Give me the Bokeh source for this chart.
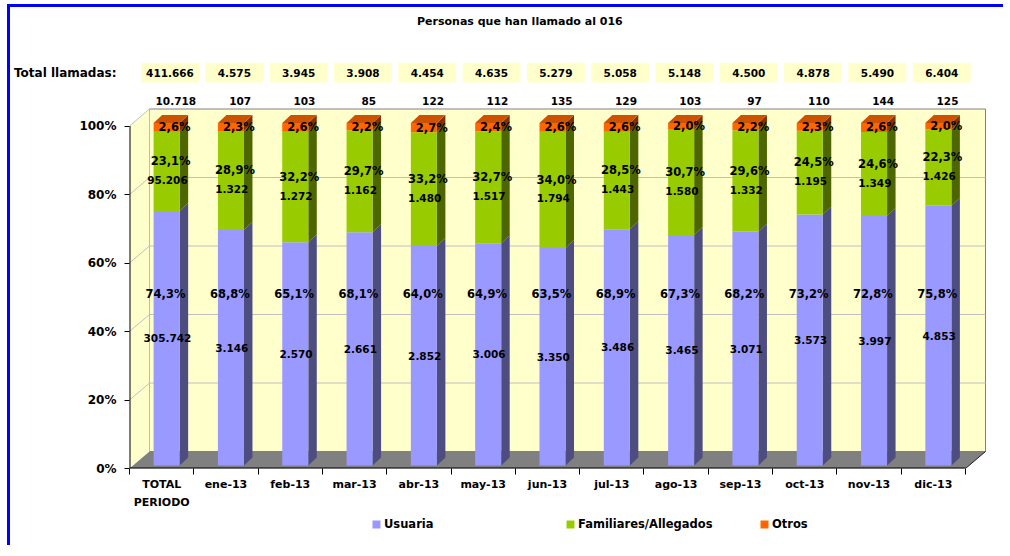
from bokeh.plotting import figure
from bokeh.layouts import column
from bokeh.models import FixedTicker, Legend, LegendItem, Label, Range1d
from bokeh.core.properties import value
from bokeh.embed import file_html
from bokeh.resources import INLINE

# ---------------- data ----------------
categories = ["TOTAL\nPERIODO", "ene-13", "feb-13", "mar-13", "abr-13", "may-13", "jun-13",
              "jul-13", "ago-13", "sep-13", "oct-13", "nov-13", "dic-13"]
total_llamadas = [411666, 4575, 3945, 3908, 4454, 4635, 5279, 5058, 5148, 4500, 4878, 5490, 6404]
usuaria = [305742, 3146, 2570, 2661, 2852, 3006, 3350, 3486, 3465, 3071, 3573, 3997, 4853]
familiares = [95206, 1322, 1272, 1162, 1480, 1517, 1794, 1443, 1580, 1332, 1195, 1349, 1426]
otros = [10718, 107, 103, 85, 122, 112, 135, 129, 103, 97, 110, 144, 125]
pct_usuaria = [74.3, 68.8, 65.1, 68.1, 64.0, 64.9, 63.5, 68.9, 67.3, 68.2, 73.2, 72.8, 75.8]
pct_familiares = [23.1, 28.9, 32.2, 29.7, 33.2, 32.7, 34.0, 28.5, 30.7, 29.6, 24.5, 24.6, 22.3]
pct_otros = [2.6, 2.3, 2.6, 2.2, 2.7, 2.4, 2.6, 2.6, 2.0, 2.2, 2.3, 2.6, 2.0]
series_names = ["Usuaria", "Familiares/Allegados", "Otros"]
y_ticks = [0, 20, 40, 60, 80, 100]
totals_title = "Total llamadas:"
chart_title = "Personas que han llamado al 016"

# ---------------- style ----------------
FONT = "DejaVu Sans"
FRONT = ["#9999FF", "#99CC00", "#FF6600"]
SIDE = ["#4D4D80", "#4D6600", "#803300"]
TOP = "#CC5200"
WALL = "#FFFFCC"
FLOOR = "#808080"
GRID = "#C0C0C0"
BLUE = "3px solid #0000FF"

W, H = 996, 511
ML, MR, MT, MB = 118, 11, 7, 50
n = len(categories)
frame_w = W - ML - MR
frame_h = H - MT - MB
unit_px = 837 / 13.0           # pixels per category
pct_px = 3.425                 # pixels per percent
x_end = frame_w / unit_px
y_end = frame_h / pct_px

WDX, WDY = 20 / unit_px, 17 / pct_px        # depth of walls
SDX, SDY = 8.5 / unit_px, 8 / pct_px        # depth of bars
BL, BR = 0.375, 0.78                          # bar front face within category
BASE = 0.9
ROW_TOTAL, ROW_OTROS, ROW_TITLE = 115.6, 107.2, 130.5

p = figure(width=W, height=H, output_backend="svg", toolbar_location=None,
           x_range=Range1d(0, x_end), y_range=Range1d(0, y_end),
           min_border_left=ML, min_border_right=MR, min_border_top=MT, min_border_bottom=MB)
p.styles = {"margin-left": "7px", "margin-top": "4px", "border-left": BLUE, "border-top": BLUE}
p.background_fill_color = "white"
p.border_fill_color = "white"
p.outline_line_color = None
p.xgrid.visible = False
p.ygrid.visible = False

# walls and floor
p.patch([WDX, n + WDX, n + WDX, WDX], [WDY, WDY, 100 + WDY, 100 + WDY],
        fill_color=WALL, line_color="#808080", line_width=1)
p.patch([0, WDX, WDX, 0], [0, WDY, 100 + WDY, 100], fill_color=WALL, line_color=None)
gx, gy = [], []
for v in y_ticks[1:]:
    gx.append([0, WDX, n + WDX] if v < 100 else [0, WDX])
    gy.append([v, v + WDY, v + WDY] if v < 100 else [v, v + WDY])
p.multi_line(gx, gy, line_color=GRID, line_width=1)
p.patch([0, n, n + WDX, WDX], [0, 0, WDY, WDY], fill_color=FLOOR, line_color=None)
p.line([n, n + WDX], [0, WDY], line_color="#202020", line_width=1)

# bars
series = [usuaria, familiares, otros]
shares = [[s[i] / total_llamadas[i] * 100 for i in range(n)] for s in series]
cum = [0.0] * n
bottoms, tops = [], []
lefts = [i + BL for i in range(n)]
rights = [i + BR for i in range(n)]
for k in range(3):
    b = [BASE + cum[i] for i in range(n)]
    t = [BASE + cum[i] + shares[k][i] for i in range(n)]
    bottoms.append(b)
    tops.append(t)
    cum = [cum[i] + shares[k][i] for i in range(n)]
    xs = [[rights[i], rights[i] + SDX, rights[i] + SDX, rights[i]] for i in range(n)]
    ys = [[b[i], b[i] + SDY, t[i] + SDY, t[i]] for i in range(n)]
    p.patches(xs, ys, fill_color=SIDE[k], line_color=None)
    p.quad(left=lefts, right=rights, bottom=b, top=t, fill_color=FRONT[k], line_color=None)
txs = [[i + BL, i + BR, i + BR + SDX, i + BL + SDX] for i in range(n)]
tys = [[tops[2][i], tops[2][i], tops[2][i] + SDY, tops[2][i] + SDY] for i in range(n)]
p.patches(txs, tys, fill_color=TOP, line_color=None)

# axis lines
p.line([0, 0], [0, 100], line_color="black", line_width=2)
p.line([0, n], [0, 0], line_color="black", line_width=2)


def miles(v):
    return f"{v:,}".replace(",", ".")


def pct(v):
    return f"{v:.1f}%".replace(".", ",")


def txt(xs, ys, texts, size="10.5px"):
    p.text(x=xs, y=ys, text=texts, text_font=value(FONT), text_font_style="bold",
           text_font_size=size, text_align="center", text_baseline="middle", text_color="black")


cx = [i + 0.5 for i in range(n)]
# in-bar labels
txt([c + 0.09 for c in cx], [(bottoms[0][i] + tops[0][i]) / 2 for i in range(n)], [miles(v) for v in usuaria])
txt([c + 0.06 for c in cx], [BASE + 50 for i in range(n)], [pct(v) for v in pct_usuaria], "11.5px")
txt([c + 0.09 for c in cx], [(bottoms[1][i] + tops[1][i]) / 2 - 2.5 for i in range(n)], [miles(v) for v in familiares])
txt([c + 0.14 for c in cx], [(bottoms[1][i] + tops[1][i]) / 2 + 3 for i in range(n)], [pct(v) for v in pct_familiares], "11.5px")
txt([c + 0.2 for c in cx], [(bottoms[2][i] + tops[2][i]) / 2 for i in range(n)], [pct(v) for v in pct_otros], "11.5px")

# counts of Otros above bars
txt([c + 0.22 for c in cx], [ROW_OTROS] * n, [miles(v) for v in otros])
# totals row
p.rect(x=[c + 0.13 for c in cx], y=[ROW_TOTAL] * n, width=0.9, height=5.8, fill_color=WALL, line_color=None)
txt([c + 0.13 for c in cx], [ROW_TOTAL] * n, [miles(v) for v in total_llamadas])
p.add_layout(Label(x=6.07, y=ROW_TITLE, text=chart_title, text_font=FONT,
                   text_font_style="bold", text_font_size="11px", text_align="center",
                   text_baseline="middle", text_color="black"))

# y axis (the "Total llamadas:" caption sits on the axis as an extra tick label)
p.yaxis.ticker = FixedTicker(ticks=y_ticks + [ROW_TOTAL], minor_ticks=y_ticks)
labels = {v: f"{v}%" for v in y_ticks}
labels[ROW_TOTAL] = totals_title
p.yaxis.major_label_overrides = labels
p.yaxis.axis_line_color = None
p.yaxis.major_tick_out = 0
p.yaxis.major_tick_in = 0
p.yaxis.minor_tick_out = 5
p.yaxis.minor_tick_in = 0
p.yaxis.minor_tick_line_color = "black"
p.yaxis.major_label_standoff = 8
p.yaxis.major_label_text_font = FONT
p.yaxis.major_label_text_font_style = "bold"
p.yaxis.major_label_text_font_size = "12px"
p.yaxis.major_label_text_color = "black"

p.xaxis.ticker = FixedTicker(ticks=cx, minor_ticks=list(range(n + 1)))
p.xaxis.major_label_overrides = {c: categories[i] for i, c in enumerate(cx)}
p.xaxis.axis_line_color = None
p.xaxis.major_tick_out = 0
p.xaxis.major_tick_in = 0
p.xaxis.minor_tick_out = 6
p.xaxis.minor_tick_in = 0
p.xaxis.minor_tick_line_color = "black"
p.xaxis.major_label_standoff = 3
p.xaxis.major_label_text_font = FONT
p.xaxis.major_label_text_font_style = "bold"
p.xaxis.major_label_text_font_size = "11px"
p.xaxis.major_label_text_line_height = 1.45
p.xaxis.major_label_text_color = "black"

# ---------------- legend strip (its frame is aligned with the chart frame) ----------------
H2 = 30
q = figure(width=W, height=H2, output_backend="svg", toolbar_location=None,
           x_range=Range1d(-3, -2), y_range=Range1d(-3, -2), min_border=0,
           x_axis_location=None, y_axis_location=None)
q.styles = {"margin-left": "7px", "border-left": BLUE}
q.background_fill_color = "white"
q.border_fill_color = "white"
q.outline_line_color = None
q.xgrid.visible = False
q.ygrid.visible = False
leg_r = [q.quad(left=lefts, right=rights, bottom=bottoms[k], top=tops[k],
                fill_color=FRONT[k], line_color=None) for k in range(3)]
legend = Legend(items=[LegendItem(label=series_names[k], renderers=[leg_r[k]]) for k in range(3)],
                orientation="horizontal", location=(242, 14), padding=0, margin=0, spacing=5,
                glyph_width=10, glyph_height=10, label_height=12, label_standoff=3, label_width=176,
                label_text_font=FONT, label_text_font_style="bold", label_text_font_size="11.5px",
                label_text_color="black", border_line_color=None, background_fill_alpha=0)
q.add_layout(legend)

open("out.html", "w").write(file_html(column(p, q, spacing=0), INLINE))
